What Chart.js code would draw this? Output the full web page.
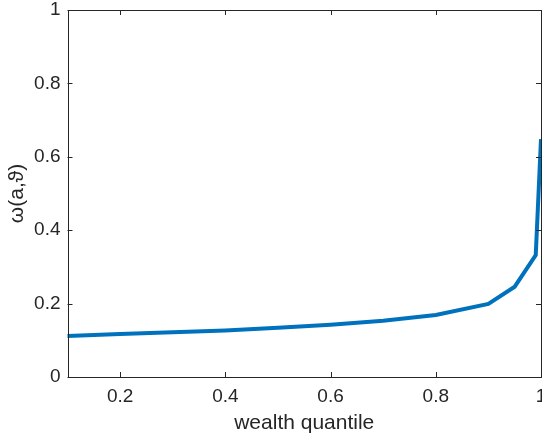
<!DOCTYPE html>
<html>
<head>
<meta charset="utf-8">
<script src="https://cdn.jsdelivr.net/npm/chart.js@4"></script>
<style>
  body { margin: 0; background: #fff; }
  #wrap { width: 542px; height: 437px; }
</style>
</head>
<body>
<div id="wrap"><canvas id="omegaChart" width="542" height="437"></canvas></div>
<script>
// ===== Data =====
const quantiles = [0.1, 0.2, 0.3, 0.4, 0.5, 0.6, 0.7, 0.8, 0.9, 0.95, 0.99, 1];
const omegaValues = [0.112, 0.117, 0.122, 0.127, 0.134, 0.1425, 0.153, 0.169, 0.199, 0.246, 0.332, 0.648];
const xTicks = [0.2, 0.4, 0.6, 0.8, 1];
const yTicks = [0, 0.2, 0.4, 0.6, 0.8, 1];

const axisColor = '#262626';
const fontFamily = '"Liberation Sans", Arial, Helvetica, sans-serif';

// MATLAB style box with inward ticks on all four sides
const boxPlugin = {
    id: 'matlabBox',
    afterDraw(chart) {
        const { ctx, chartArea: a, scales } = chart;
        const len = 5;
        ctx.save();
        ctx.strokeStyle = axisColor;
        ctx.lineWidth = 1;
        ctx.strokeRect(Math.round(a.left) + 0.5, Math.round(a.top) + 0.5,
            Math.round(a.right - a.left) - 1, Math.round(a.bottom - a.top));
        ctx.beginPath();
        xTicks.forEach(v => {
            const px = Math.round(scales.x.getPixelForValue(v)) + 0.5;
            ctx.moveTo(px, a.bottom); ctx.lineTo(px, a.bottom - len);
            ctx.moveTo(px, a.top); ctx.lineTo(px, a.top + len);
        });
        yTicks.forEach(v => {
            const py = Math.round(scales.y.getPixelForValue(v)) + 0.5;
            ctx.moveTo(a.left, py); ctx.lineTo(a.left + len, py);
            ctx.moveTo(a.right, py); ctx.lineTo(a.right - len, py);
        });
        ctx.stroke();
        ctx.restore();
    }
};

function initChart() {
    const ctx = document.getElementById('omegaChart');

    const data = {
        labels: quantiles,
        datasets: [{
            data: quantiles.map((q, i) => ({ x: q, y: omegaValues[i] })),
            borderColor: '#0072BD',
            borderWidth: 4,
            pointRadius: 0,
            fill: false,
            tension: 0,
            clip: false
        }]
    };

    const config = {
        type: 'line',
        data: data,
        options: {
            responsive: false,
            animation: false,
            layout: { padding: { top: 10, right: 1, left: 0, bottom: 0 } },
            plugins: {
                legend: { display: false },
                tooltip: { enabled: false }
            },
            scales: {
                x: {
                    type: 'linear',
                    min: 0.1,
                    max: 1,
                    grid: { display: false, drawTicks: false },
                    border: { display: false },
                    afterBuildTicks: scale => { scale.ticks = xTicks.map(v => ({ value: v })); },
                    afterFit: scale => {
                        scale.height = 60;
                        scale.paddingLeft = 0;
                        scale.paddingRight = 0;
                    },
                    ticks: {
                        color: axisColor,
                        padding: 8,
                        maxRotation: 0,
                        font: { family: fontFamily, size: 19 },
                        callback: v => String(+v.toFixed(2))
                    },
                    title: {
                        display: true,
                        text: 'wealth quantile',
                        color: axisColor,
                        padding: { top: 0, bottom: 1 },
                        font: { family: fontFamily, size: 21 }
                    }
                },
                y: {
                    min: 0,
                    max: 1,
                    grid: { display: false, drawTicks: false },
                    border: { display: false },
                    afterBuildTicks: scale => { scale.ticks = yTicks.map(v => ({ value: v })); },
                    afterFit: scale => {
                        scale.width = 67.5;
                        scale.paddingTop = 0;
                        scale.paddingBottom = 0;
                    },
                    ticks: {
                        color: axisColor,
                        padding: 7,
                        font: { family: fontFamily, size: 19 },
                        callback: v => String(+v.toFixed(2))
                    },
                    title: {
                        display: true,
                        text: 'ω(a,ϑ)',
                        color: axisColor,
                        padding: { top: 5, bottom: 0 },
                        font: { family: fontFamily, size: 21 }
                    }
                }
            }
        },
        plugins: [boxPlugin]
    };

    new Chart(ctx, config);
}

document.addEventListener('DOMContentLoaded', initChart);
</script>
</body>
</html>
